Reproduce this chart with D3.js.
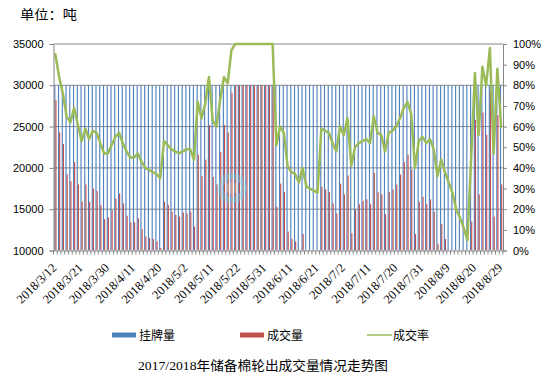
<!DOCTYPE html>
<html><head><meta charset="utf-8">
<script src="https://cdn.jsdelivr.net/npm/d3@7"></script>
<style>body{margin:0;background:#fff}svg{display:block}</style>
</head><body>
<svg id="chart" width="553" height="387"></svg>
<script>
// ---- data ----
const dates = ["2018/3/12","2018/3/13","2018/3/14","2018/3/15","2018/3/16","2018/3/19","2018/3/20","2018/3/21","2018/3/22","2018/3/23",
"2018/3/26","2018/3/27","2018/3/28","2018/3/29","2018/3/30","2018/4/2","2018/4/3","2018/4/4","2018/4/8","2018/4/9",
"2018/4/10","2018/4/11","2018/4/12","2018/4/13","2018/4/16","2018/4/17","2018/4/18","2018/4/19","2018/4/20","2018/4/23",
"2018/4/24","2018/4/25","2018/4/26","2018/4/27","2018/4/28","2018/5/2","2018/5/3","2018/5/4","2018/5/7","2018/5/8",
"2018/5/9","2018/5/10","2018/5/11","2018/5/14","2018/5/15","2018/5/16","2018/5/17","2018/5/18","2018/5/21","2018/5/22",
"2018/5/23","2018/5/24","2018/5/25","2018/5/28","2018/5/29","2018/5/30","2018/5/31","2018/6/1","2018/6/4","2018/6/5",
"2018/6/6","2018/6/7","2018/6/8","2018/6/11","2018/6/12","2018/6/13","2018/6/14","2018/6/15","2018/6/19","2018/6/20",
"2018/6/21","2018/6/22","2018/6/25","2018/6/26","2018/6/27","2018/6/28","2018/6/29","2018/7/2","2018/7/3","2018/7/4",
"2018/7/5","2018/7/6","2018/7/9","2018/7/10","2018/7/11","2018/7/12","2018/7/13","2018/7/16","2018/7/17","2018/7/18",
"2018/7/19","2018/7/20","2018/7/23","2018/7/24","2018/7/25","2018/7/26","2018/7/27","2018/7/30","2018/7/31","2018/8/1",
"2018/8/2","2018/8/3","2018/8/6","2018/8/7","2018/8/8","2018/8/9","2018/8/10","2018/8/13","2018/8/14","2018/8/15",
"2018/8/16","2018/8/17","2018/8/20","2018/8/21","2018/8/22","2018/8/23","2018/8/24","2018/8/27","2018/8/28","2018/8/29"];

// 挂牌量 (tonnes)
const listed = [30000,30000,30000,30000,30000,30000,30000,30000,30000,30000,
30000,30000,30000,30000,30000,30000,30000,30000,30000,30000,
30000,30000,30000,30000,30000,30000,30000,30000,30000,30000,
30000,30000,30000,30000,30000,30000,30000,30000,30000,30000,
30000,30000,30000,30000,30000,30000,30000,30000,30000,30000,
30000,30000,30000,30000,30000,30000,30000,30000,30000,30000,
30000,30000,30000,30000,30000,30000,30000,30000,30000,30000,
30000,30000,30000,30000,30000,30000,30000,30000,30000,30000,
30000,30000,30000,30000,30000,30000,30000,30000,30000,30000,
30000,30000,30000,30000,30000,30000,30000,30000,30000,30000,
30000,30000,30000,30000,30000,30000,30000,30000,30000,30000,
30000,30000,30000,30000,30000,30000,30000,30000,30000,30000];

// 成交量 (tonnes)
const traded = [28200,24300,22900,19200,18400,20700,18000,15900,18000,15900,
17500,17200,15500,13800,14000,14900,16300,16900,15700,14200,
13400,13400,13900,12600,11700,11500,11400,11100,10300,15900,
15500,14700,14300,14100,14600,14500,14700,12900,21600,19000,
21000,25200,18900,18000,21900,25200,24300,29100,30000,30000,
30000,30000,30000,30000,30000,30000,30000,30000,30000,15300,
18100,17100,12300,11400,11100,9900,12000,9300,9000,8700,
8400,17700,17400,17100,15700,14500,18100,16800,19100,12100,
15000,15600,16000,16200,15600,19400,17100,16800,14400,17100,
17400,18000,19200,20700,21600,19800,12000,15900,16500,15600,
16200,14700,10800,13200,11400,9900,8400,6000,4800,3300,
1500,13500,25800,16800,26700,24000,29400,14100,26400,18000];

// 成交率 (%)
const rate = [95,84,76,65,62,69,61,53,59,54,
58,57,52,47,47,51,55,57,52,48,
45,45,47,43,40,39,38,37,35,53,
51,49,48,47,48,49,49,44,72,64,
71,84,63,60,73,84,81,97,100,100,
100,100,100,100,100,100,100,100,100,51,
60,57,41,38,37,33,40,31,30,29,
28,59,58,57,52,48,60,56,64,41,
50,52,53,54,52,65,57,56,48,57,
58,60,64,69,72,66,40,53,55,52,
54,49,36,44,38,33,28,20,16,11,
5,45,86,56,89,80,98,47,88,60];

const leftTicks = [10000,15000,20000,25000,30000,35000];
const rightTicks = [0,0.1,0.2,0.3,0.4,0.5,0.6,0.7,0.8,0.9,1];
const labelDates = ["2018/3/12","2018/3/21","2018/3/30","2018/4/11","2018/4/20","2018/5/2","2018/5/11","2018/5/22","2018/5/31",
"2018/6/11","2018/6/21","2018/7/2","2018/7/11","2018/7/20","2018/7/31","2018/8/9","2018/8/20","2018/8/29"];
const seriesNames = ["挂牌量","成交量","成交率"];
const unitText = "单位：吨";
const titleText = "2017/2018年储备棉轮出成交量情况走势图";

// ---- layout ----
const L = 53.5, R = 503, T = 44, B = 250.5;
const colBlue = "#4F81BD", colRed = "#C0504D", colGreen = "#9BBB59", gridCol = "#868686";

const svg = d3.select("#chart");
const x = d3.scaleBand().domain(dates).range([L, R]).paddingInner(0).paddingOuter(0);
const yL = d3.scaleLinear().domain([10000, 35000]).range([B, T]);
const yR = d3.scaleLinear().domain([0, 1]).range([B, T]);

const w = x.bandwidth();
const bw = w / 3.3;
const off = (w - 2 * bw) / 2;

// unit
svg.append("text").attr("x", 20).attr("y", 19)
  .attr("font-family", "'Noto Sans CJK SC', sans-serif").attr("font-size", 13)
  .attr("textLength", 57).attr("lengthAdjust", "spacingAndGlyphs")
  .attr("fill", "#000").text(unitText);

// gridlines
svg.append("g").selectAll("line").data(leftTicks.filter(d => d > 10000)).join("line")
  .attr("x1", L).attr("x2", R).attr("y1", d => yL(d)).attr("y2", d => yL(d))
  .attr("stroke", gridCol).attr("stroke-width", 1);

// clip
svg.append("clipPath").attr("id", "plotclip").append("rect")
  .attr("x", L).attr("y", T).attr("width", R - L).attr("height", B - T);

const bars = svg.append("g").attr("clip-path", "url(#plotclip)");
bars.selectAll("rect.blue").data(dates).join("rect").attr("class", "blue")
  .attr("x", (d) => x(d) + off)
  .attr("width", bw)
  .attr("y", (d, i) => yL(listed[i]))
  .attr("height", (d, i) => Math.max(0, B - yL(listed[i])))
  .attr("fill", colBlue);
bars.selectAll("rect.red").data(dates).join("rect").attr("class", "red")
  .attr("x", (d) => x(d) + off + bw)
  .attr("width", bw)
  .attr("y", (d, i) => yL(Math.max(10000, traded[i])))
  .attr("height", (d, i) => Math.max(0, B - yL(Math.max(10000, traded[i]))))
  .attr("fill", colRed);

// watermark (faint)
const wm = svg.append("g").attr("opacity", 0.35);
wm.append("circle").attr("cx", 232).attr("cy", 188).attr("r", 12)
  .attr("fill", "none").attr("stroke", "#7fd3e6").attr("stroke-width", 6);
wm.append("circle").attr("cx", 232).attr("cy", 188).attr("r", 6)
  .attr("fill", "#f4e9b8").attr("opacity", 0.7);

// line
const line = d3.line().x((d, i) => x(dates[i]) + w / 2).y(d => yR(d / 100)).curve(d3.curveLinear);
svg.append("path").datum(rate).attr("d", line)
  .attr("fill", "none").attr("stroke", colGreen).attr("stroke-width", 2.5)
  .attr("stroke-linejoin", "round").attr("stroke-linecap", "round");

// left axis
const gl = svg.append("g").attr("transform", `translate(${L},0)`)
  .call(d3.axisLeft(yL).tickValues(leftTicks).tickSize(4).tickPadding(6).tickFormat(d3.format("d")));
// right axis
const gr = svg.append("g").attr("transform", `translate(${R},0)`)
  .call(d3.axisRight(yR).tickValues(rightTicks).tickSize(4).tickPadding(6).tickFormat(d3.format(".0%")));
[gl, gr].forEach(g => {
  g.select(".domain").attr("stroke", gridCol);
  g.selectAll(".tick line").attr("stroke", gridCol);
  g.selectAll("text").attr("font-family", "'Liberation Sans', Arial, sans-serif").attr("font-size", 11).attr("fill", "#000");
});

// bottom axis
const gb = svg.append("g").attr("transform", `translate(0,${B})`)
  .call(d3.axisBottom(x).tickValues(labelDates).tickSize(0).tickFormat(d => d));
gb.select(".domain").attr("stroke", gridCol);
gb.selectAll(".tick text")
  .attr("font-family", "'Liberation Serif', 'Times New Roman', serif").attr("font-size", 12.5).attr("fill", "#000")
  .attr("text-anchor", "end").attr("dy", 0)
  .attr("transform", "translate(2,18) rotate(-45)").attr("y", 0).attr("x", 0);
// category boundary tick marks
svg.append("g").selectAll("line").data(dates.concat(["__end"])).join("line")
  .attr("x1", (d, i) => L + i * w).attr("x2", (d, i) => L + i * w)
  .attr("y1", B).attr("y2", B + 4).attr("stroke", gridCol).attr("stroke-width", 1);

// legend
const lg = svg.append("g").attr("font-family", "'Noto Sans CJK SC', sans-serif").attr("font-size", 12);
lg.append("rect").attr("x", 112).attr("y", 332.5).attr("width", 24).attr("height", 5).attr("fill", colBlue);
lg.append("text").attr("x", 139).attr("y", 339.5).text(seriesNames[0]);
lg.append("rect").attr("x", 240).attr("y", 332.5).attr("width", 24).attr("height", 5).attr("fill", colRed);
lg.append("text").attr("x", 267).attr("y", 339.5).text(seriesNames[1]);
lg.append("line").attr("x1", 367).attr("x2", 392).attr("y1", 335).attr("y2", 335).attr("stroke", colGreen).attr("stroke-width", 1.5);
lg.append("text").attr("x", 393).attr("y", 339.5).text(seriesNames[2]);

// title
svg.append("text").attr("x", 138).attr("y", 369.5)
  .attr("font-family", "'Liberation Serif', 'Noto Sans CJK SC', serif").attr("font-size", 13)
  .attr("textLength", 250).attr("lengthAdjust", "spacingAndGlyphs")
  .attr("fill", "#000").text(titleText);
</script>
</body></html>
